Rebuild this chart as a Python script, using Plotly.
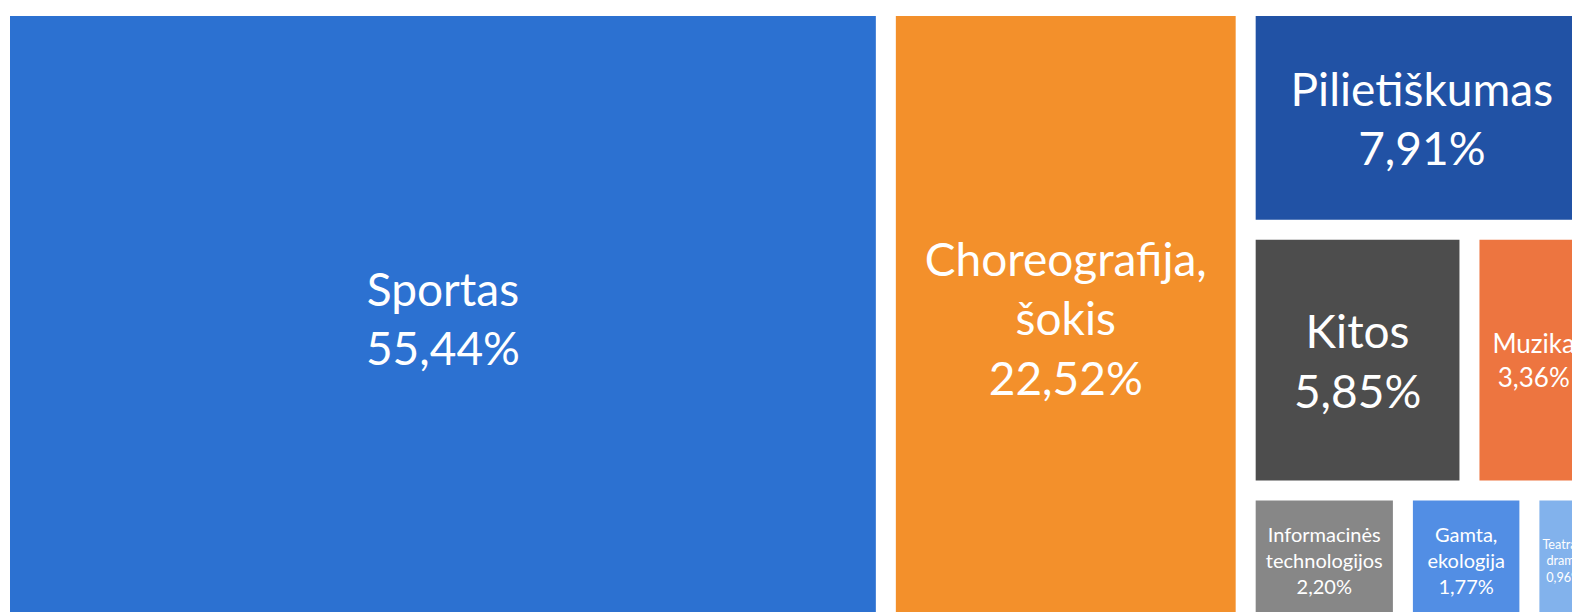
import plotly.graph_objects as go

# Data (percent shares)
categories = ["Sportas", "Choreografija, šokis", "Pilietiškumas", "Kitos", "Muzika",
              "Informacinės technologijos", "Gamta, ekologija", "Teatras, drama"]
values = [55.44, 22.52, 7.91, 5.85, 3.36, 2.20, 1.77, 0.96]
display_names = ["Sportas", "Choreografija,<br>šokis", "Pilietiškumas", "Kitos", "Muzika",
                 "Informacinės<br>technologijos", "Gamta,<br>ekologija", "Teatras,<br>drama"]
# grouping of the layout (hand-made arrangement of the original)
group_of = ["", "", "right", "mid", "mid", "low", "low", "low"]
groups = ["right", "mid", "low"]
group_parent = ["", "right", "right"]

colors = ["#2C71D1", "#F3902B", "#2152A5", "#4D4D4D", "#ED7540", "#878787", "#528EE4", "#82B2EC"]
font_sizes = [46, 46, 46, 46, 26, 20, 20, 20]


def fmt(v):
    return f"{v:.2f}".replace(".", ",") + "%"


order = [0, 1, 2, "right", 3, 4, "mid", 5, 6, 7, "low"]

node_ids, node_labels, node_parents, node_values, node_colors, node_text, node_sizes = [], [], [], [], [], [], []
for o in order:
    if isinstance(o, int):
        node_ids.append(categories[o])
        node_labels.append(categories[o])
        node_parents.append(group_of[o])
        node_values.append(values[o])
        node_colors.append(colors[o])
        node_text.append(display_names[o] + "<br>" + fmt(values[o]))
        node_sizes.append(font_sizes[o])
    else:
        gi = groups.index(o)
        node_ids.append(o)
        node_labels.append(" ")
        node_parents.append(group_parent[gi])
        node_values.append(0)
        node_colors.append("#FFFFFF")
        node_text.append(" ")
        node_sizes.append(10)

fig = go.Figure(go.Treemap(
    ids=node_ids,
    labels=node_labels,
    parents=node_parents,
    values=node_values,
    branchvalues="remainder",
    sort=False,
    text=node_text,
    texttemplate="%{text}",
    textposition="middle center",
    textfont=dict(family="Lato", color="white", size=node_sizes),
    marker=dict(colors=node_colors, line=dict(width=0),
                pad=dict(t=0, l=0, r=0, b=0)),
    tiling=dict(packing="slice-dice", pad=20),
    pathbar=dict(visible=False),
    hoverinfo="skip",
    root=dict(color="white"),
))

fig.update_layout(
    width=1580, height=612,
    margin=dict(l=2, r=0, t=8, b=0),
    paper_bgcolor="white",
    showlegend=False,
)

fig.write_html("out.html")
